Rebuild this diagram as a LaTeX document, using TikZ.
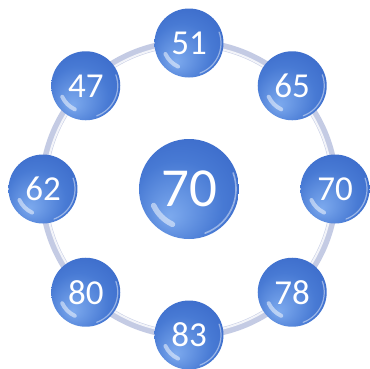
\documentclass[tikz,border=0pt]{standalone}
\usepackage{fontspec}
\setmainfont{Carlito}
\definecolor{ballhi}{RGB}{125,170,238}
\definecolor{ballmid}{RGB}{72,122,212}
\definecolor{balledge}{RGB}{52,98,196}
\definecolor{balldark}{RGB}{38,78,176}
\definecolor{ringcol}{RGB}{196,203,228}
\pgfdeclareradialshading{glassball}{\pgfpoint{-10bp}{-14bp}}{color(0bp)=(ballhi); color(22bp)=(ballmid); color(42bp)=(balledge); color(50bp)=(balldark)}
\tikzset{
  bead/.style={circle, minimum size=#1, inner sep=0pt, shading=glassball, text=white},
  beadtext/.style={font=\fontsize{35}{35}\selectfont},
  bigtext/.style={font=\fontsize{55}{55}\selectfont},
  ringline/.style={draw=ringcol, line width=8pt},
  ringshine/.style={draw=white, line width=2pt, opacity=0.8},
  shine/.style={draw=white, line cap=round, opacity=0.5},
}
\begin{document}
\begin{tikzpicture}[x=1pt,y=1pt]
\useasboundingbox (-189,-179) rectangle (181,189);
\fill[white] (-189,-179) rectangle (181,189);
\coordinate (c) at (0,0);
\draw[ringline] (c) circle[radius=146];
\draw[ringshine] (c) circle[radius=143.5];
\node[bead=69pt, bigtext, minimum size=100pt] (mid) at (0,0) {70};
\foreach \nm/\ang/\val in {b1/90/51, b2/45/65, b3/0/70, b4/-45/78, b5/-90/83, b6/-135/80, b7/180/62, b8/135/47}{
  \node[bead=69pt, beadtext] (\nm) at (\ang:146) {\val};
  \draw[shine, line width=4pt] (\nm.center) ++(205:26) arc[start angle=205, end angle=245, radius=26];
  \draw[shine, line width=1.2pt, opacity=0.45] (\nm.center) ++(-70:32) arc[start angle=-70, end angle=20, radius=32];
}
\draw[shine, line width=5.5pt] (mid.center) ++(205:39) arc[start angle=205, end angle=245, radius=39];
\draw[shine, line width=1.6pt, opacity=0.45] (mid.center) ++(-70:47) arc[start angle=-70, end angle=20, radius=47];
\end{tikzpicture}
\end{document}
